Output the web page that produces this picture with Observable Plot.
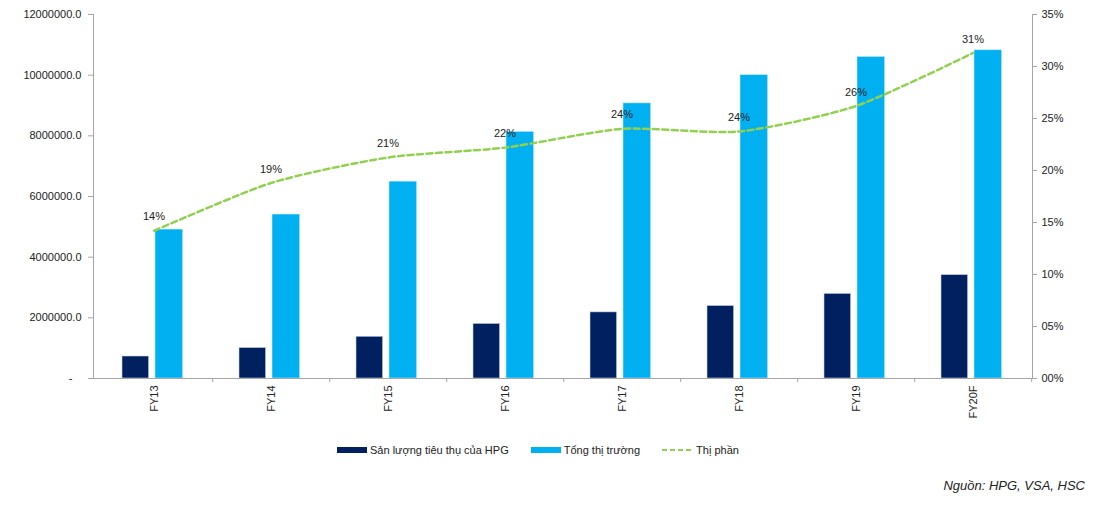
<!DOCTYPE html>
<html>
<head>
<meta charset="utf-8">
<script src="https://cdn.jsdelivr.net/npm/d3@7"></script>
<script src="https://cdn.jsdelivr.net/npm/@observablehq/plot@0.6"></script>
<style>
  html, body { margin: 0; padding: 0; background: #fff; }
  body { width: 1101px; height: 520px; font-family: "Liberation Sans", Arial, sans-serif; color: #333; position: relative; overflow: hidden; }
  #legend { position: absolute; top: 444px; left: 337px; display: flex; align-items: center; font-size: 11px; color: #222; white-space: nowrap; }
  .item { display: flex; align-items: center; margin-right: 22px; }
  .sw { width: 30px; height: 6px; margin-right: 3px; }
  #caption { position: absolute; top: 478px; right: 16px; font-size: 13px; font-style: italic; color: #222; }
</style>
</head>
<body>
<div id="chart"></div>
<div id="legend"></div>
<div id="caption">Nguồn: HPG, VSA, HSC</div>
<script>
const categories = ["FY13", "FY14", "FY15", "FY16", "FY17", "FY18", "FY19", "FY20F"];
const hpgSales = [725000, 1005000, 1376000, 1800000, 2180000, 2390000, 2790000, 3410000];
const marketTotal = [4910000, 5405000, 6490000, 8130000, 9070000, 10000000, 10600000, 10820000];
const marketShare = [0.142, 0.188, 0.2125, 0.222, 0.240, 0.2375, 0.262, 0.313];

const leftTicks = [0, 2000000, 4000000, 6000000, 8000000, 10000000, 12000000];
const leftTickLabels = ["-\u00a0\u00a0\u00a0", "2000000.0", "4000000.0", "6000000.0", "8000000.0", "10000000.0", "12000000.0"];
const rightTicks = [0, 0.05, 0.10, 0.15, 0.20, 0.25, 0.30, 0.35];
const rightTickLabels = ["00%", "05%", "10%", "15%", "20%", "25%", "30%", "35%"];
const seriesNames = ["Sản lượng tiêu thụ của HPG", "Tổng thị trường", "Thị phần"];

const yMax = 12000000, shareMax = 0.35;
const k = yMax / shareMax;
const data = categories.map((c, i) => ({cat: c, hpg: hpgSales[i], market: marketTotal[i], share: marketShare[i]}));
const rightTicksScaled = rightTicks.map(v => v * k);

const W = 1101, H = 420, mL = 93, mR = 69, mT = 14, mB = 42;
const band = (W - mL - mR) / categories.length;
const gray = "#a6a6a6";
const dark = "#002060", light = "#00B0F0", green = "#92D050";

const chart = Plot.plot({
  width: W, height: H,
  marginLeft: mL, marginRight: mR, marginTop: mT, marginBottom: mB,
  style: {fontFamily: "'Liberation Sans', Arial, sans-serif", fontSize: "11px", color: "#333", background: "#fff"},
  x: {domain: categories, padding: 0},
  y: {domain: [0, yMax]},
  marks: [
    Plot.barY(data, {x: "cat", y: "hpg", fill: dark, stroke: "#c9d3e6", strokeWidth: 0.6, insetLeft: 27, insetRight: band - 54}),
    Plot.barY(data, {x: "cat", y: "market", fill: light, stroke: "#bfeafb", strokeWidth: 0.6, insetLeft: 60, insetRight: band - 88}),
    Plot.line(data, {x: "cat", y: d => d.share * k, stroke: green, strokeWidth: 2.5, strokeDasharray: "6,3.5", curve: "cardinal", tension: 0.3}),
    Plot.text(data, {x: "cat", y: d => d.share * k, text: d => Math.round(d.share * 100) + "%", dy: -14, fill: "#222", fontSize: 11}),
    Plot.frame({anchor: "left", stroke: gray}),
    Plot.frame({anchor: "right", stroke: gray}),
    Plot.frame({anchor: "bottom", stroke: gray}),
    Plot.axisY({ticks: leftTicks, tickFormat: d => leftTickLabels[leftTicks.indexOf(d)], tickSize: 5, tickPadding: 7, stroke: gray, fill: "#222", label: null}),
    Plot.axisY({anchor: "right", ticks: rightTicksScaled, tickFormat: d => rightTickLabels[rightTicksScaled.indexOf(d)], tickSize: 4, tickPadding: 5, stroke: gray, fill: "#222", label: null}),
    Plot.axisX({tickSize: 0, tickRotate: -90, tickPadding: 7, fill: "#222", label: null}),
    Plot.axisX({tickSize: 4, tickFormat: () => "", dx: band / 2, stroke: gray, label: null})
  ]
});
document.getElementById("chart").appendChild(chart);

const legend = document.getElementById("legend");
const colors = [dark, light];
seriesNames.forEach((name, i) => {
  const item = document.createElement("div");
  item.className = "item";
  if (i < 2) {
    const sw = document.createElement("div");
    sw.className = "sw";
    sw.style.background = colors[i];
    item.appendChild(sw);
  } else {
    const ns = "http://www.w3.org/2000/svg";
    const svg = document.createElementNS(ns, "svg");
    svg.setAttribute("width", 32); svg.setAttribute("height", 6);
    svg.style.marginRight = "2px";
    const ln = document.createElementNS(ns, "line");
    ln.setAttribute("x1", 0); ln.setAttribute("x2", 32); ln.setAttribute("y1", 3); ln.setAttribute("y2", 3);
    ln.setAttribute("stroke", green); ln.setAttribute("stroke-width", 2);
    ln.setAttribute("stroke-dasharray", "5,3");
    svg.appendChild(ln);
    item.appendChild(svg);
  }
  const t = document.createElement("span");
  t.textContent = name;
  item.appendChild(t);
  legend.appendChild(item);
});
</script>
</body>
</html>
